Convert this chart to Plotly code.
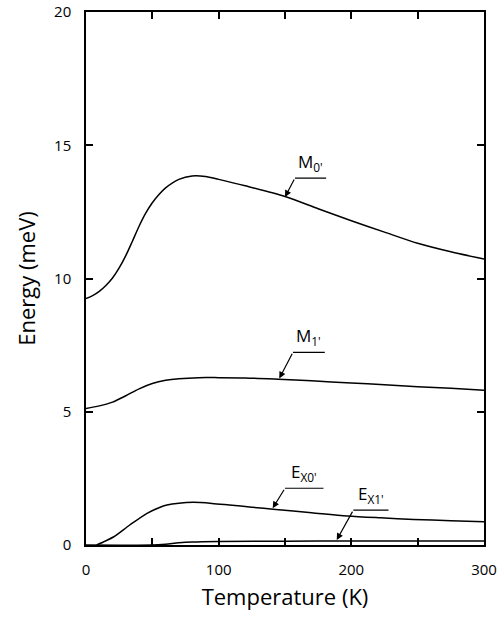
import plotly.graph_objects as go

# Temperature (K) and energies (meV)
T_M0 = [0, 5, 10, 15, 20, 25, 30, 35, 40, 45, 50, 55, 60, 70, 80, 90, 100, 120, 150, 175, 200, 225, 250, 275, 300]
E_M0 = [9.25, 9.36, 9.52, 9.74, 10.02, 10.4, 10.86, 11.4, 11.96, 12.45, 12.84, 13.15, 13.4, 13.72, 13.85, 13.83, 13.72, 13.48, 13.08, 12.62, 12.17, 11.74, 11.32, 11.0, 10.73]

T_M1 = [0, 10, 20, 30, 40, 50, 60, 70, 85, 100, 120, 145, 170, 200, 225, 250, 275, 300]
E_M1 = [5.12, 5.22, 5.36, 5.6, 5.86, 6.06, 6.18, 6.24, 6.28, 6.28, 6.27, 6.22, 6.16, 6.08, 6.01, 5.94, 5.88, 5.81]

T_EX0 = [8, 15, 21, 33, 46, 55, 61, 70, 81, 95, 108, 125, 141, 170, 197, 222, 247, 275, 300]
E_EX0 = [0.0, 0.16, 0.31, 0.75, 1.19, 1.4, 1.5, 1.57, 1.6, 1.56, 1.5, 1.42, 1.34, 1.21, 1.09, 1.02, 0.96, 0.91, 0.87]

T_EX1 = [0, 50, 60, 70, 80, 100, 150, 200, 250, 300]
E_EX1 = [0.0, 0.0, 0.03, 0.08, 0.11, 0.13, 0.14, 0.15, 0.15, 0.15]

# Curve labels: text, underline start/end T, underline E, arrow tip T, arrow tip E
LABELS = ["M<sub>0'</sub>", "M<sub>1'</sub>", "E<sub>X0'</sub>", "E<sub>X1'</sub>"]
LINE_T0 = [157.5, 156, 150, 201.5]
LINE_T1 = [181, 180, 179, 228]
LINE_E = [13.77, 7.23, 2.13, 1.31]
TIP_T = [150, 145.7, 140.7, 189]
TIP_E = [13.06, 6.25, 1.38, 0.19]

XTICKS = [0, 50, 100, 150, 200, 250, 300]
XTICKTEXT = ["0", "", "100", "", "200", "", "300"]
YTICKS = [0, 5, 10, 15, 20]

FONT = "Open Sans"

fig = go.Figure()
for tx, ey in [(T_M0, E_M0), (T_M1, E_M1), (T_EX0, E_EX0), (T_EX1, E_EX1)]:
    fig.add_trace(go.Scatter(x=tx, y=ey, mode="lines",
                             line=dict(color="black", width=1.5, shape="spline", smoothing=0.8),
                             showlegend=False, hoverinfo="skip"))

for i in range(len(LABELS)):
    fig.add_shape(type="line", x0=LINE_T0[i], x1=LINE_T1[i], y0=LINE_E[i], y1=LINE_E[i],
                  xref="x", yref="y", line=dict(color="black", width=1.2))
    fig.add_annotation(x=TIP_T[i], y=TIP_E[i], ax=LINE_T0[i], ay=LINE_E[i],
                       xref="x", yref="y", axref="x", ayref="y", text="",
                       showarrow=True, arrowhead=2, arrowsize=1.1, arrowwidth=1.2,
                       arrowcolor="black")
    fig.add_annotation(x=(LINE_T0[i] + LINE_T1[i]) / 2, y=LINE_E[i], xref="x", yref="y",
                       text=LABELS[i], showarrow=False, yanchor="bottom", xanchor="center",
                       yshift=1, font=dict(family=FONT, size=17, color="black"))

axis_common = dict(showline=True, linecolor="black", linewidth=1.5, mirror="ticks",
                   ticks="inside", ticklen=7, tickwidth=1.5, tickcolor="black",
                   showgrid=False, zeroline=False, automargin=False,
                   tickfont=dict(family=FONT, size=15, color="black"))

fig.update_xaxes(range=[0, 300], tickvals=XTICKS, ticktext=XTICKTEXT,
                 ticklabelstandoff=10,
                 title=dict(text="Temperature (K)", font=dict(family=FONT, size=22, color="black"),
                            standoff=12),
                 **axis_common)
fig.update_yaxes(range=[0, 20], tickvals=YTICKS, ticktext=[str(v) for v in YTICKS],
                 ticklabelstandoff=10,
                 title=dict(text="Energy (meV)", font=dict(family=FONT, size=22, color="black"),
                            standoff=12),
                 **axis_common)

fig.update_layout(width=504, height=617, margin=dict(l=86, r=20, t=12, b=72),
                  paper_bgcolor="white", plot_bgcolor="white",
                  font=dict(family=FONT, color="black"))

fig.write_html("out.html", config={"displayModeBar": False},
               post_script="document.body.style.margin='0';document.body.style.overflow='hidden';")
